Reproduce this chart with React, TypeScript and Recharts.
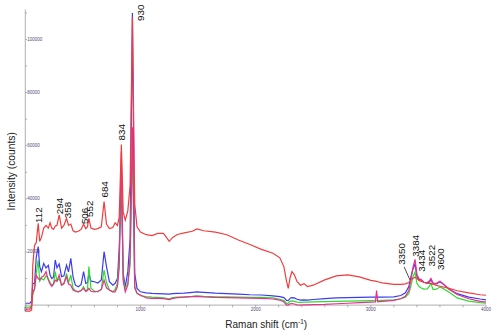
import React from 'react';
import { ComposedChart, Line, Scatter, XAxis, YAxis, ReferenceLine, Label } from 'recharts';

// Raman shift grid (cm-1) shared by all four spectra
const shifts = [
  0, 40, 55, 65, 80, 95, 112, 125, 140, 160, 180, 200, 215, 230, 245, 260, 275, 294, 315, 335,
  358, 375, 395, 415, 435, 460, 485, 506, 525, 540, 552, 570, 600, 630, 660, 684, 705, 730, 760, 780,
  800, 815, 834, 850, 868, 890, 910, 930, 950, 970, 1000,
  1050, 1100, 1150, 1200, 1250, 1280, 1320, 1380, 1450, 1490, 1550, 1650, 1750, 1850, 1950, 2050, 2150, 2210, 2245, 2268,
  2283, 2300, 2315, 2335, 2360, 2390, 2420, 2450, 2500, 2600, 2700, 2800, 2900, 3000, 3040, 3050, 3060, 3100, 3200, 3260,
  3300, 3330, 3350, 3365, 3384, 3400, 3420, 3434, 3460, 3490, 3510, 3522, 3540, 3570, 3600, 3630, 3680, 3750, 3850, 3950,
  4000,
];

const redCounts = [
  -2300, -2300, -1800, 15000, 22500, 23500, 30800, 24000, 25500, 29000, 30000, 29000, 31000, 29000, 28500, 29800, 30000, 34000, 29000, 30000,
  32700, 30000, 30500, 28000, 27500, 27800, 28500, 30500, 28800, 29500, 32700, 29000, 28500, 28800, 29500, 39000, 30500, 28800, 29200, 31000,
  30000, 33000, 60500, 35000, 32000, 35500, 45000, 108500, 38000, 29500, 27500,
  26500, 26200, 27000, 27000, 24000, 25500, 26600, 27200, 27800, 28700, 28000, 27500, 26500, 24500, 22800, 21000, 19500, 17800, 14500, 9000,
  6300, 10500, 12600, 11500, 8800, 7500, 8100, 7000, 7500, 9500, 11000, 11400, 10600, 9300, 9000, 8900, 8800, 8400, 7800, 7800,
  8000, 8500, 9500, 10000, 10500, 10000, 9200, 9000, 8600, 8300, 8200, 8200, 7900, 7400, 7100, 6800, 6300, 5400, 4600, 3900,
  3700,
];

const blueCounts = [
  700, 700, 1500, 8300, 8000, 18000, 22000, 14500, 12600, 15700, 14000, 15000, 11300, 10000, 10500, 17000, 14000, 15500, 10700, 11000,
  15100, 12500, 17600, 10500, 7500, 6900, 7800, 12600, 8200, 8500, 11900, 9000, 8800, 8300, 9500, 20100, 14500, 8800, 7500, 8200,
  10000, 21000, 45000, 12000, 6900, 12600, 25000, 110000, 12000, 6300, 5000,
  4600, 4400, 4300, 4200, 4100, 4300, 4400, 4500, 4800, 5000, 4800, 4500, 4300, 4100, 3900, 3800, 3500, 3200, 2800, 1800,
  1700, 2600, 2800, 2700, 2200, 1900, 2000, 1900, 2100, 2400, 2700, 2800, 2900, 3000, 3000, 3000, 3000, 3000, 3100, 3600,
  4600, 7000, 11000, 13500, 15500, 10800, 9600, 9600, 8600, 8200, 8800, 9700, 8000, 8000, 8800, 7800, 6000, 4300, 3000, 2300,
  2000,
];

const greenCounts = [
  -800, -800, 0, 4000, 6000, 12000, 17000, 9000, 10000, 9500, 11000, 10000, 8500, 7500, 8000, 12600, 9000, 10000, 7500, 8000,
  11900, 8500, 11300, 6300, 5500, 5000, 5500, 6900, 5200, 6000, 14500, 6300, 5300, 5000, 6000, 13200, 8500, 5700, 5000, 6000,
  8200, 16000, 53000, 10000, 6300, 8000, 15000, 60000, 7000, 4500, 3500,
  3200, 3000, 2900, 2700, 2400, 2800, 3000, 3100, 3300, 3500, 3300, 3100, 3100, 3000, 2900, 2900, 2700, 2200, 1700, 600,
  700, 1500, 1600, 1400, 1100, 1000, 1100, 1100, 1200, 1300, 1400, 1500, 1600, 1700, 1700, 1700, 1700, 1800, 2000, 2400,
  3000, 4400, 7500, 10500, 12500, 8200, 7000, 6500, 6000, 6100, 7200, 8200, 5800, 6000, 6800, 6200, 4800, 2700, 1500, 900,
  700,
];

const magentaCounts = [
  -1500, -1500, -500, 5000, 6000, 11300, 10000, 9500, 10500, 11000, 12600, 9400, 8000, 7000, 8000, 9400, 9000, 11300, 7500, 8200,
  10700, 8000, 7500, 5700, 5200, 5000, 5500, 6300, 5200, 5500, 6300, 5200, 5000, 5200, 5800, 9400, 6500, 5700, 5000, 5000,
  7000, 14000, 57500, 9000, 5000, 7500, 18000, 67000, 6500, 4400, 3800,
  2700, 2500, 2600, 2400, 2100, 2500, 2800, 3000, 3200, 3300, 3100, 2900, 2800, 2700, 2600, 2500, 2300, 1900, 1200, 0,
  0, 500, 600, 400, 100, 0, 50, 100, 200, 300, 500, 700, 900, 1100, 1200, 5500, 1200, 1400, 1800, 2400,
  3300, 5500, 10000, 14000, 17200, 11500, 9800, 9700, 8600, 8500, 9200, 10000, 8300, 8200, 9000, 8000, 6000, 4000, 2400, 1400,
  1100,
];

// Annotated band positions and the intensity at which each annotation sits
const peakShifts = [112, 294, 358, 506, 552, 684, 834, 930, 3350, 3384, 3434, 3522, 3600];
const peakLabelCounts = [30900, 34200, 32700, 30500, 33200, 40500, 62000, 107000, 9500, 18200, 12600, 14500, 13200];

const xTicks = [0, 200, 400, 600, 800, 1000, 1200, 1400, 1600, 1800, 2000, 2200, 2400, 2600, 2800, 3000, 3200, 3400, 3600, 3800, 4000];
const xTickLabels = [0, 1000, 2000, 3000, 4000];
const yTicks = [0, 10000, 20000, 30000, 40000, 50000, 60000, 70000, 80000, 90000, 100000, 110000];
const yTickLabels = [20000, 40000, 60000, 80000, 100000];

const Y_MIN = -2600;
const Y_MAX = 111300;
const WIDTH = 500;
const HEIGHT = 336;
const MARGIN = { top: 9.5, right: 14, left: 0, bottom: 0 };
const X_AXIS_HEIGHT = 24;
const Y_AXIS_WIDTH = 25.3;
const PLOT_HEIGHT = HEIGHT - MARGIN.top - MARGIN.bottom - X_AXIS_HEIGHT;
// distance in px between the zero-intensity row and the bottom of the plot
const ZERO_OFFSET = (PLOT_HEIGHT * (0 - Y_MIN)) / (Y_MAX - Y_MIN);

const AXIS_COLOR = '#9a9a9a';
const TICK_TEXT = '#554a7c';
const FONT = '"Liberation Sans", Arial, sans-serif';

const data = shifts.map((s, i) => ({
  shift: s,
  red: redCounts[i],
  blue: blueCounts[i],
  green: greenCounts[i],
  magenta: magentaCounts[i],
}));

const labelData = peakShifts.map((s, i) => ({ shift: s, at: peakLabelCounts[i] }));

const XTick = (props: any) => {
  const { x, y, payload } = props;
  const base = y - ZERO_OFFSET;
  const showText = xTickLabels.includes(payload.value);
  return (
    <g>
      <line x1={x} x2={x} y1={base} y2={base + 2.2} stroke={AXIS_COLOR} strokeWidth={0.8} />
      {showText && (
        <text x={x} y={base + 4.2} textAnchor="middle" dominantBaseline="central" fontSize={4.5} fill={TICK_TEXT} fontFamily={FONT}>
          {payload.value}
        </text>
      )}
    </g>
  );
};

const YTick = (props: any) => {
  const { x, y, payload } = props;
  const showText = yTickLabels.includes(payload.value);
  return (
    <g>
      <line x1={x} x2={x + 1.8} y1={y} y2={y} stroke={AXIS_COLOR} strokeWidth={0.8} />
      {showText && (
        <text x={x + 2} y={y} textAnchor="start" dominantBaseline="central" fontSize={4.5} fill={TICK_TEXT} fontFamily={FONT}>
          {payload.value}
        </text>
      )}
    </g>
  );
};

// per-annotation placement tweaks (px)
const labelOffsets: Record<number, { dx: number; dy: number; leader?: boolean }> = {
  930: { dx: 8.3, dy: 0 },
  3350: { dx: -9.7, dy: -15, leader: true },
};

const LABEL_SIZE = 9.8;
const CAP_HALF = LABEL_SIZE * 0.36;

const PeakLabel = (props: any) => {
  const { cx, cy, payload } = props;
  if (cx == null || cy == null) return <g />;
  const off = labelOffsets[payload.shift] ?? { dx: 0.6, dy: 0 };
  const tx = cx + off.dx + CAP_HALF;
  const ty = cy + off.dy;
  return (
    <g>
      {off.leader && <line x1={cx - 7} y1={cy - 13} x2={cx - 1.2} y2={cy} stroke="#222" strokeWidth={0.8} />}
      <text
        transform={`translate(${tx}, ${ty}) rotate(-90)`}
        textAnchor="start"
        fontSize={LABEL_SIZE}
        fill="#111"
        fontFamily={FONT}
      >
        {payload.shift}
      </text>
    </g>
  );
};

const XTitle = (props: any) => {
  const vb = props.viewBox || { x: 0, y: 0, width: 0, height: 0 };
  const cx = vb.x + vb.width / 2 + 10.5;
  return (
    <text x={cx} y={vb.y + 16} textAnchor="middle" fontSize={10} fill="#222" fontFamily={FONT}>
      Raman shift (cm
      <tspan dy={-3.8} fontSize={6.3}>-1</tspan>
      <tspan dy={3.8}>)</tspan>
    </text>
  );
};

const YTitle = (props: any) => {
  const vb = props.viewBox || { x: 0, y: 0, width: 0, height: 0 };
  const cx = vb.x + 11;
  const cy = vb.y + vb.height / 2 + 10.5;
  return (
    <text
      transform={`translate(${cx}, ${cy}) rotate(-90)`}
      textAnchor="middle"
      dominantBaseline="central"
      fontSize={10.3}
      fill="#222"
      fontFamily={FONT}
    >
      Intensity (counts)
    </text>
  );
};

export default function App() {
  return (
    <div style={{ position: 'absolute', left: 0, top: 0, width: WIDTH, height: HEIGHT, background: '#fff' }}>
      <ComposedChart width={WIDTH} height={HEIGHT} data={data} margin={MARGIN}>
        <XAxis
          dataKey="shift"
          type="number"
          domain={[0, 4000]}
          ticks={xTicks}
          interval={0}
          height={X_AXIS_HEIGHT}
          axisLine={false}
          tickLine={false}
          tickSize={0}
          tickMargin={0}
          tick={<XTick />}
        >
          <Label content={<XTitle />} />
        </XAxis>
        <YAxis
          type="number"
          domain={[Y_MIN, Y_MAX]}
          ticks={yTicks}
          interval={0}
          width={Y_AXIS_WIDTH}
          axisLine={{ stroke: AXIS_COLOR, strokeWidth: 0.8 }}
          tickLine={false}
          tickSize={0}
          tickMargin={0}
          tick={<YTick />}
        >
          <Label content={<YTitle />} />
        </YAxis>
        <ReferenceLine y={0} stroke={AXIS_COLOR} strokeWidth={0.8} />
        <Line dataKey="blue" stroke="#3b3bf5" strokeWidth={1.2} dot={false} isAnimationActive={false} />
        <Line dataKey="green" stroke="#2fdc2f" strokeWidth={1.2} dot={false} isAnimationActive={false} />
        <Line dataKey="magenta" stroke="#ea2f8e" strokeWidth={1.2} dot={false} isAnimationActive={false} />
        <Line dataKey="red" stroke="#f23c3c" strokeWidth={1.2} dot={false} isAnimationActive={false} />
        <Scatter data={labelData} dataKey="at" shape={PeakLabel} isAnimationActive={false} />
      </ComposedChart>
    </div>
  );
}
